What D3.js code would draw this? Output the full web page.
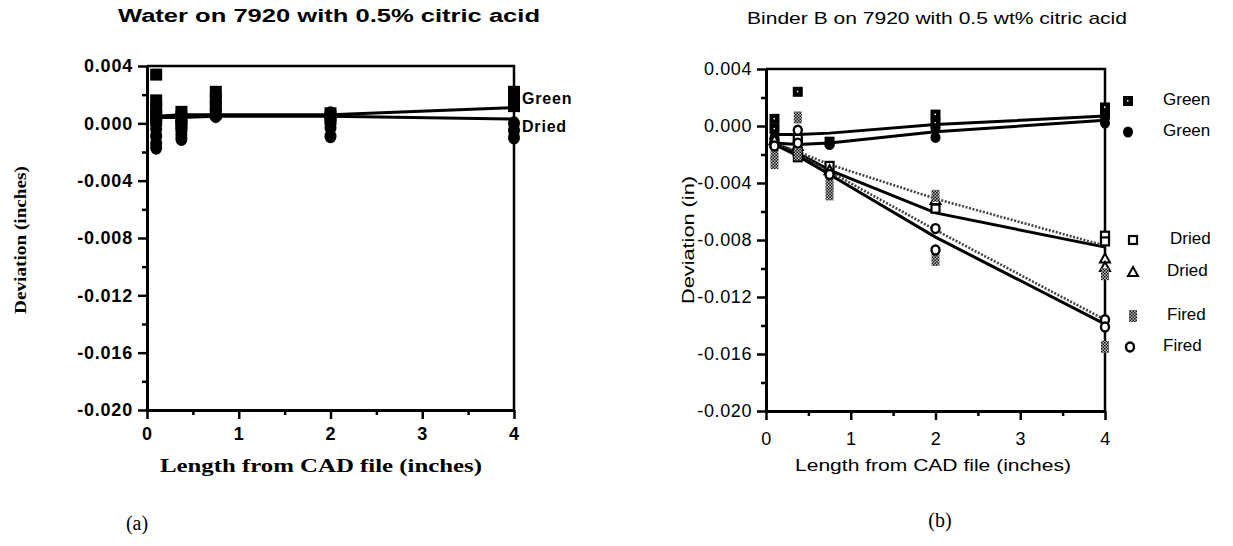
<!DOCTYPE html>
<html><head><meta charset="utf-8">
<script src="https://cdn.jsdelivr.net/npm/d3@7"></script>
<style>body{margin:0;background:#fff}</style>
</head><body>
<svg id="c" width="1233" height="546" xmlns="http://www.w3.org/2000/svg"></svg>
<script>
// Measured part lengths (inches) shared by both panels
const lengths = [0.1, 0.375, 0.75, 2, 4];
const xTicks = [0, 1, 2, 3, 4];
const xMinor = [0.5, 1.5, 2.5, 3.5];
const yTicks = [0.004, 0, -0.004, -0.008, -0.012, -0.016, -0.020];
const yTickLabels = ["0.004", "0.000", "-0.004", "-0.008", "-0.012", "-0.016", "-0.020"];
const yMinor = [0.002, -0.002, -0.006, -0.010, -0.014, -0.018];

// (a) water binder: replicate deviations per length, and mean curves
const waterGreenPts = [[0.0034, 0.0016, 0.0011, 0.0006, 0.0002], [0.0008, 0.0003, -0.0002], [0.0022, 0.0017, 0.0012, 0.0007], [0.0007, 0.0003], [0.0022, 0.0017, 0.0012]];
const waterDriedPts = [[0.0001, -0.0004, -0.0009, -0.0014, -0.0017], [0.0007, 0.0002, -0.0003, -0.0008, -0.0011], [0.0005], [0.0007, 0.0002, -0.0003, -0.0009], [0.0000, -0.0005, -0.0010]];
const waterGreenMean = [0.0005, 0.0006, 0.0006, 0.0006, 0.0011];
const waterDriedMean = [0.0004, 0.0004, 0.0005, 0.0005, 0.0003];

// (b) binder B: replicate deviations per length, and mean curves
const bGreenSqPts = [[0.0005, -0.0002], [0.0024, -0.0022], [-0.0011], [0.0008, 0.0002], [0.0013, 0.0009]];
const bGreenCircPts = [[-0.0008, -0.0012], [-0.0010, -0.0016], [-0.0013], [-0.0002, -0.0008], [0.0006, 0.0002]];
const bDriedSqPts = [[-0.0012], [-0.0009, -0.0018], [-0.0028], [-0.0058], [-0.0077, -0.0081]];
const bDriedTriPts = [[-0.0010], [-0.0014], [-0.0031], [-0.0052], [-0.0093, -0.0099]];
const bFiredXPts = [[-0.0020, -0.0026], [0.0006, -0.0020], [-0.0040, -0.0048], [-0.0049, -0.0094], [-0.0104, -0.0155]];
const bFiredCircPts = [[-0.0014], [-0.0003, -0.0012], [-0.0034], [-0.0072, -0.0087], [-0.0136, -0.0141]];
const bGreenSqMean = [-0.0006, -0.0006, -0.0005, 0.0001, 0.0007];
const bGreenCircMean = [-0.0012, -0.0013, -0.0012, -0.0004, 0.0004];
const bDriedSqMean = [-0.0012, -0.0019, -0.0031, -0.0061, -0.0085];
const bDriedTriMean = [-0.0012, -0.0018, -0.0027, -0.0051, -0.0084];
const bFiredXMean = [-0.0013, -0.0020, -0.0032, -0.0073, -0.0136];
const bFiredCircMean = [-0.0013, -0.0021, -0.0034, -0.0078, -0.0139];

const svg = d3.select("#c");
const defs = svg.append("defs");
const hatch = defs.append("pattern").attr("id", "hatch").attr("patternUnits", "userSpaceOnUse")
  .attr("width", 3).attr("height", 3);
hatch.append("rect").attr("width", 3).attr("height", 3).attr("fill", "#bbb");
hatch.append("rect").attr("width", 1.5).attr("height", 1.5).attr("fill", "#111");
hatch.append("rect").attr("x", 1.5).attr("y", 1.5).attr("width", 1.5).attr("height", 1.5).attr("fill", "#111");

// marker painters
function drawMarker(g, kind, cx, cy) {
  if (kind === "sqFilled") {
    g.append("rect").attr("x", cx - 5).attr("y", cy - 5).attr("width", 10).attr("height", 10).attr("fill", "#000");
    g.append("rect").attr("x", cx - 1).attr("y", cy - 1).attr("width", 1.5).attr("height", 1.5).attr("fill", "#fff");
  } else if (kind === "bigSq") {
    g.append("rect").attr("x", cx - 6).attr("y", cy - 6).attr("width", 12).attr("height", 12).attr("fill", "#000");
  } else if (kind === "ovalFilled") {
    g.append("ellipse").attr("cx", cx).attr("cy", cy).attr("rx", 6).attr("ry", 7).attr("fill", "#000");
  } else if (kind === "circFilled") {
    g.append("ellipse").attr("cx", cx).attr("cy", cy).attr("rx", 5).attr("ry", 5.5).attr("fill", "#000");
  } else if (kind === "sqHollow") {
    g.append("rect").attr("x", cx - 4).attr("y", cy - 4).attr("width", 8).attr("height", 8)
      .attr("fill", "#fff").attr("stroke", "#000").attr("stroke-width", 2.2);
  } else if (kind === "triHollow") {
    g.append("path").attr("d", `M${cx},${cy - 5}L${cx + 5},${cy + 4}L${cx - 5},${cy + 4}Z`)
      .attr("fill", "#fff").attr("stroke", "#000").attr("stroke-width", 2);
  } else if (kind === "hatch") {
    g.append("rect").attr("x", cx - 4).attr("y", cy - 6).attr("width", 8).attr("height", 12).attr("fill", "url(#hatch)");
  } else if (kind === "circHollow") {
    g.append("ellipse").attr("cx", cx).attr("cy", cy).attr("rx", 4).attr("ry", 4.5)
      .attr("fill", "#fff").attr("stroke", "#000").attr("stroke-width", 2.4);
  }
}

function panel(cfg) {
  const x = d3.scaleLinear().domain([0, 4]).range(cfg.xr);
  const y = d3.scaleLinear().domain([-0.020, 0.004]).range(cfg.yr);
  const g = svg.append("g");

  // frame: top and right edges
  g.append("path").attr("d", `M${x(0)},${y(0.004)}H${x(4)}V${y(-0.020)}`)
    .attr("fill", "none").attr("stroke", "#000").attr("stroke-width", 2.5);

  // minor ticks
  g.append("g").attr("transform", `translate(${x(0)},0)`)
    .call(d3.axisLeft(y).tickValues(yMinor).tickSize(5).tickFormat(""))
    .call(a => a.select(".domain").remove())
    .call(a => a.selectAll("line").attr("stroke-width", 2.5));
  g.append("g").attr("transform", `translate(0,${y(-0.020)})`)
    .call(d3.axisBottom(x).tickValues(xMinor).tickSize(5).tickFormat(""))
    .call(a => a.select(".domain").remove())
    .call(a => a.selectAll("line").attr("stroke-width", 2.5));

  // major axes
  const ya = g.append("g").attr("transform", `translate(${x(0)},0)`)
    .call(d3.axisLeft(y).tickValues(yTicks).tickSize(9).tickSizeOuter(0).tickPadding(5)
      .tickFormat((d, i) => yTickLabels[i]));
  const xa = g.append("g").attr("transform", `translate(0,${y(-0.020)})`)
    .call(d3.axisBottom(x).tickValues(xTicks).tickSize(9).tickSizeOuter(0).tickPadding(cfg.xPad)
      .tickFormat(d3.format("d")));
  [ya, xa].forEach(a => {
    a.select(".domain").attr("stroke-width", 3);
    a.selectAll("line").attr("stroke-width", 2.5);
    a.selectAll("text").attr("fill", "#000").style("font-family", cfg.tickFont)
      .style("font-size", cfg.tickSize + "px").style("font-weight", cfg.tickWeight)
      .style("letter-spacing", cfg.tickSpacing + "px");
  });

  const line = d3.line().x((d, i) => x(lengths[i])).y(d => y(d));
  cfg.series.forEach(s => {
    g.append("path").datum(s.mean).attr("d", line).attr("fill", "none")
      .attr("stroke", s.dotted ? "#444" : "#000").attr("stroke-width", s.dotted ? 2.6 : 3)
      .attr("stroke-dasharray", s.dotted ? "2,1.6" : null);
  });
  cfg.series.forEach(s => {
    s.pts.forEach((vals, i) => vals.forEach(v => drawMarker(g, s.marker, x(lengths[i]), y(v))));
  });
  return { x, y, g };
}

function label(txt, x, y, opts) {
  const t = svg.append("text").attr("x", x).attr("y", y).text(txt)
    .attr("text-anchor", opts.anchor || "middle").attr("dominant-baseline", "middle")
    .style("font-family", opts.font).style("font-size", opts.size + "px")
    .style("font-weight", opts.weight || "normal").attr("fill", "#000");
  if (opts.len) t.attr("textLength", opts.len).attr("lengthAdjust", opts.adjust || "spacingAndGlyphs");
  if (opts.rotate) t.attr("transform", `rotate(-90,${x},${y})`);
  if (opts.spacing) t.style("letter-spacing", opts.spacing + "px");
  return t;
}

const sans = "Liberation Sans, Arial, Helvetica, sans-serif";
const narrow = "Liberation Sans Narrow, Arial Narrow, Liberation Sans, Arial, sans-serif";
const serif = "Liberation Serif, Times New Roman, serif";

// (a)
panel({
  xr: [147, 514], yr: [410, 66], xPad: 8,
  tickFont: sans, tickSize: 18, tickWeight: "bold", tickSpacing: 0.8,
  series: [
    { pts: waterGreenPts, mean: waterGreenMean, marker: "bigSq" },
    { pts: waterDriedPts, mean: waterDriedMean, marker: "ovalFilled" }
  ]
});
label("Water on 7920 with 0.5% citric acid", 329, 17, { font: sans, size: 18, weight: "bold", len: 422 });
label("Deviation (inches)", 22, 240, { font: serif, size: 17, weight: "bold", len: 148, rotate: true });
label("Length from CAD file (inches)", 321, 468, { font: serif, size: 18, weight: "bold", len: 322 });
label("(a)", 137, 525, { font: serif, size: 20 });
label("Green", 522, 100, { font: sans, size: 16, weight: "bold", anchor: "start", spacing: 0.8 });
label("Dried", 522, 128, { font: sans, size: 16, weight: "bold", anchor: "start", spacing: 0.8 });

// (b)
panel({
  xr: [766, 1105], yr: [411, 69], xPad: 12,
  tickFont: sans, tickSize: 18, tickWeight: "normal", tickSpacing: 0.6,
  series: [
    { pts: bGreenSqPts, mean: bGreenSqMean, marker: "sqFilled" },
    { pts: bGreenCircPts, mean: bGreenCircMean, marker: "circFilled" },
    { pts: bDriedSqPts, mean: bDriedSqMean, marker: "sqHollow" },
    { pts: bDriedTriPts, mean: bDriedTriMean, marker: "triHollow", dotted: true },
    { pts: bFiredXPts, mean: bFiredXMean, marker: "hatch", dotted: true },
    { pts: bFiredCircPts, mean: bFiredCircMean, marker: "circHollow" }
  ]
});
label("Binder B on 7920 with 0.5 wt% citric acid", 937, 20, { font: narrow, size: 17, len: 380 });
label("Deviation (in)", 690, 240, { font: narrow, size: 17, len: 128, rotate: true });
label("Length from CAD file (inches)", 933, 467, { font: narrow, size: 17, len: 276 });
label("(b)", 940, 522, { font: serif, size: 20 });

// legend (b)
const legB = [
  { m: "sqFilled", t: "Green", mx: 1128, tx: 1163, y: 101 },
  { m: "circFilled", t: "Green", mx: 1128, tx: 1163, y: 132 },
  { m: "sqHollow", t: "Dried", mx: 1133, tx: 1170, y: 240 },
  { m: "triHollow", t: "Dried", mx: 1133, tx: 1167, y: 272 },
  { m: "hatch", t: "Fired", mx: 1133, tx: 1167, y: 316 },
  { m: "circHollow", t: "Fired", mx: 1130, tx: 1163, y: 347 }
];
const lg = svg.append("g");
legB.forEach(d => {
  drawMarker(lg, d.m, d.mx, d.y);
  label(d.t, d.tx, d.y, { font: sans, size: 17, anchor: "start" });
});
</script>
</body></html>
